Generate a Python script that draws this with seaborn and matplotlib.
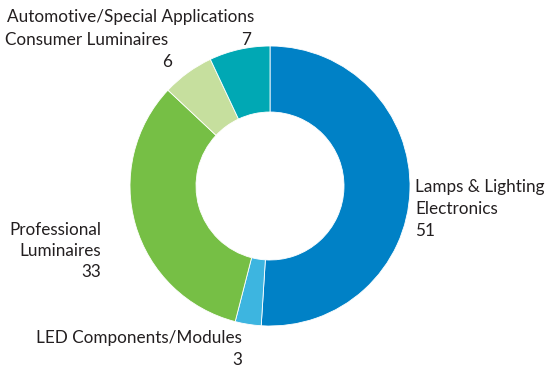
import matplotlib
matplotlib.use("Agg")
import matplotlib.pyplot as plt
import seaborn as sns

# Sales share by business segment (%)
segments = [
    "Lamps & Lighting Electronics",
    "LED Components/Modules",
    "Professional Luminaires",
    "Consumer Luminaires",
    "Automotive/Special Applications",
]
shares = [51, 3, 33, 6, 7]
colors = ["#0081C6", "#3DB5E0", "#76BF45", "#C6DF9E", "#00A8B4"]

sns.set_theme(style="white")
plt.rcParams["font.family"] = ["Lato", "DejaVu Sans"]

W, H = 548, 369
fig = plt.figure(figsize=(W / 100, H / 100), dpi=100)
ax = fig.add_axes([0, 0, 1, 1])

cx, cy = 270, H - 186
R = 140
ax.pie(
    shares,
    colors=colors,
    startangle=90,
    counterclock=False,
    radius=R,
    center=(cx, cy),
    wedgeprops=dict(width=R - 74, edgecolor="white", linewidth=0.6),
    frame=True,
)
ax.set_xlim(0, W)
ax.set_ylim(0, H)
ax.set_aspect("equal")
ax.axis("off")

tc = "#231F20"
fs = 12.3


def put(x, y, s, ha="left"):
    ax.text(x, H - y, s, ha=ha, va="center", fontsize=fs, color=tc)


put(415, 187, "Lamps & Lighting")
put(415, 209, "Electronics")
put(415, 231, str(shares[0]))

put(242, 338, "LED Components/Modules", ha="right")
put(242, 360, str(shares[1]), ha="right")

put(101, 230, "Professional", ha="right")
put(101, 251, "Luminaires", ha="right")
put(101, 272, str(shares[2]), ha="right")

put(5, 40, "Consumer Luminaires")
put(172, 62, str(shares[3]), ha="right")

put(7, 17, "Automotive/Special Applications")
put(251, 40, str(shares[4]), ha="right")

fig.savefig("out.png", dpi=100)
